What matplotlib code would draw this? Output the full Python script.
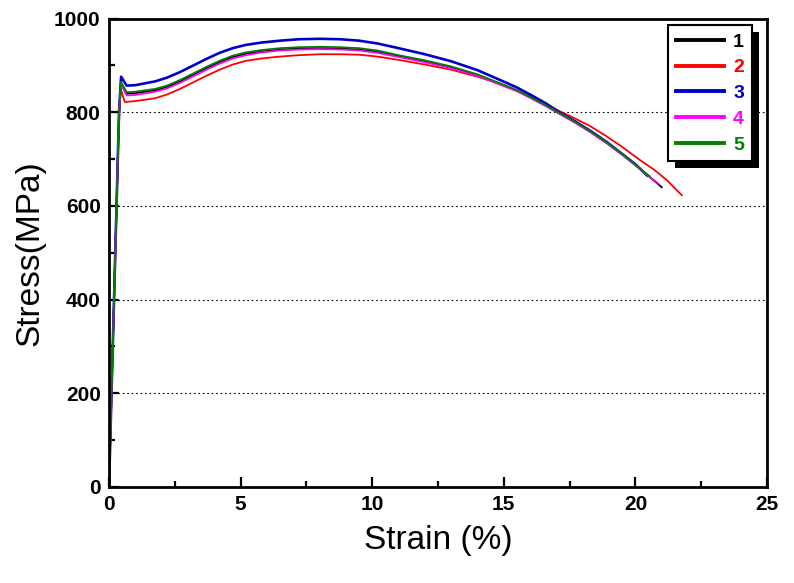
import matplotlib
matplotlib.use("Agg")
import matplotlib.pyplot as plt
from matplotlib.patches import Rectangle
from matplotlib.ticker import MultipleLocator

labels = ["1", "2", "3", "4", "5"]
colors = ["#000000", "#ff0000", "#0000cc", "#ff00ff", "#008000"]

strain_1 = [0, 0.2, 0.38, 0.45, 0.67, 1.0, 1.75, 2.2, 2.7, 3.2, 3.7, 4.2, 4.7, 5.2, 5.8, 6.5, 7.2, 8.0,
            8.8, 9.5, 10.2, 11.0, 12.0, 13.0, 14.0, 14.9, 15.5, 16.0, 16.6, 17.1, 17.7, 18.3, 18.9,
            19.5, 20.0, 20.5, 21.0]
stress_1 = [0, 420, 800, 862, 840, 841, 847, 854, 866, 880, 894, 907, 918, 925, 930, 934, 936, 937,
            936, 934, 929, 920, 909, 896, 879, 860, 846, 832, 814, 798, 779, 758, 735,
            710, 687, 664, 640]

strain_2 = [0, 0.2, 0.38, 0.44, 0.6, 1.0, 1.75, 2.2, 2.7, 3.2, 3.7, 4.2, 4.7, 5.2, 5.8, 6.5, 7.2, 8.0,
            8.8, 9.5, 10.2, 11.0, 12.0, 13.0, 14.0, 14.9, 15.5, 16.0, 16.6, 17.1, 17.7, 18.3, 18.9,
            19.5, 20.2, 20.7, 21.2, 21.76]
stress_2 = [0, 420, 780, 850, 822, 824, 830, 838, 850, 864, 878, 891, 902, 910, 915, 919, 922, 924,
            924, 923, 919, 912, 902, 891, 876, 860, 847, 834, 818, 803, 787, 770, 749,
            726, 697, 678, 655, 623]

strain_3 = [0, 0.2, 0.38, 0.46, 0.67, 1.0, 1.75, 2.2, 2.7, 3.2, 3.7, 4.2, 4.7, 5.2, 5.8, 6.5, 7.2, 8.0,
            8.8, 9.5, 10.2, 11.0, 12.0, 13.0, 14.0, 14.9, 15.5, 16.0, 16.6, 17.1, 17.7, 18.3, 18.9,
            19.5, 20.0, 20.45]
stress_3 = [0, 420, 800, 876, 857, 858, 866, 874, 886, 900, 914, 927, 937, 944, 949, 953, 956, 957,
            956, 953, 947, 937, 924, 909, 890, 868, 853, 838, 819, 800, 781, 760, 737,
            711, 689, 665]

strain_4 = [0, 0.2, 0.38, 0.45, 0.67, 1.0, 1.75, 2.2, 2.7, 3.2, 3.7, 4.2, 4.7, 5.2, 5.8, 6.5, 7.2, 8.0,
            8.8, 9.5, 10.2, 11.0, 12.0, 13.0, 14.0, 14.9, 15.5, 16.0, 16.6, 17.1, 17.7, 18.3, 18.9,
            19.5, 20.0, 20.5, 20.87]
stress_4 = [0, 420, 800, 860, 836, 837, 844, 851, 863, 877, 891, 904, 915, 922, 928, 932, 934, 935,
            934, 932, 927, 918, 907, 894, 878, 858, 845, 831, 813, 797, 778, 757, 734,
            709, 687, 664, 648]

strain_5 = [0, 0.2, 0.38, 0.45, 0.67, 1.0, 1.75, 2.2, 2.7, 3.2, 3.7, 4.2, 4.7, 5.2, 5.8, 6.5, 7.2, 8.0,
            8.8, 9.5, 10.2, 11.0, 12.0, 13.0, 14.0, 14.9, 15.5, 16.0, 16.6, 17.1, 17.7, 18.3, 18.9,
            19.5, 20.0, 20.55]
stress_5 = [0, 420, 800, 865, 843, 844, 850, 857, 869, 883, 897, 910, 921, 928, 933, 937, 939, 940,
            939, 937, 932, 922, 911, 898, 881, 861, 847, 833, 815, 799, 780, 759, 736,
            711, 688, 663]

strains = [strain_1, strain_2, strain_3, strain_4, strain_5]
stresses = [stress_1, stress_2, stress_3, stress_4, stress_5]
widths = [1.3, 1.3, 1.9, 1.3, 1.3]

x_ticks = [0, 5, 10, 15, 20, 25]
y_ticks = [0, 200, 400, 600, 800, 1000]
grid_levels = [200, 400, 600, 800]

tick_font = ["Liberation Sans", "DejaVu Sans"]
label_font = ["Liberation Sans", "DejaVu Sans"]

fig = plt.figure(figsize=(7.94, 5.83), dpi=100)
ax = fig.add_axes([0.1373, 0.1647, 0.8287, 0.8033])

for g in grid_levels:
    ax.axhline(g, color="black", lw=0.8, linestyle=(0, (1.5, 2.5)), zorder=0)

for s, st, lab, c, w in zip(strains, stresses, labels, colors, widths):
    ax.plot(s, st, color=c, lw=w, label=lab)

ax.set_xlim(0, 25)
ax.set_ylim(0, 1000)
ax.set_xticks(x_ticks)
ax.set_yticks(y_ticks)
ax.xaxis.set_minor_locator(MultipleLocator(2.5))
ax.yaxis.set_minor_locator(MultipleLocator(100))
ax.tick_params(which="both", direction="in", top=False, right=False, width=1.6)
ax.tick_params(which="major", length=7, pad=6)
ax.tick_params(which="minor", length=4)
for sp in ax.spines.values():
    sp.set_linewidth(2.0)

for t in ax.get_xticklabels() + ax.get_yticklabels():
    t.set_family(tick_font)
    t.set_fontweight("bold")
    t.set_fontsize(15)

ax.set_xlabel("Strain (%)", family=label_font, fontsize=24, labelpad=8)
ax.set_ylabel("Stress(MPa)", family=label_font, fontsize=24, labelpad=6)

leg_handles = [plt.Line2D([], [], color=c, lw=2.8) for c in colors]
leg = ax.legend(leg_handles, labels, loc="upper right", bbox_to_anchor=(0.977, 0.986),
                frameon=True, fancybox=False, edgecolor="black", framealpha=1,
                handlelength=2.5, handletextpad=0.45, labelspacing=0.42,
                borderpad=0.4, borderaxespad=0,
                prop={"family": tick_font, "weight": "bold", "size": 14},
                labelcolor=colors)
leg.get_frame().set_linewidth(1.5)
leg.set_zorder(5)

fig.canvas.draw()
bb = leg.get_window_extent()
inv = fig.transFigure.inverted()
(x0, y0) = inv.transform((bb.x0 + 7, bb.y0 - 7))
(x1, y1) = inv.transform((bb.x1 + 7, bb.y1 - 7))
shadow = Rectangle((x0, y0), x1 - x0, y1 - y0, transform=fig.transFigure,
                   facecolor="black", edgecolor="none", zorder=4)
ax.add_artist(shadow)
shadow.set_clip_on(False)

fig.savefig("out.png", dpi=100)
